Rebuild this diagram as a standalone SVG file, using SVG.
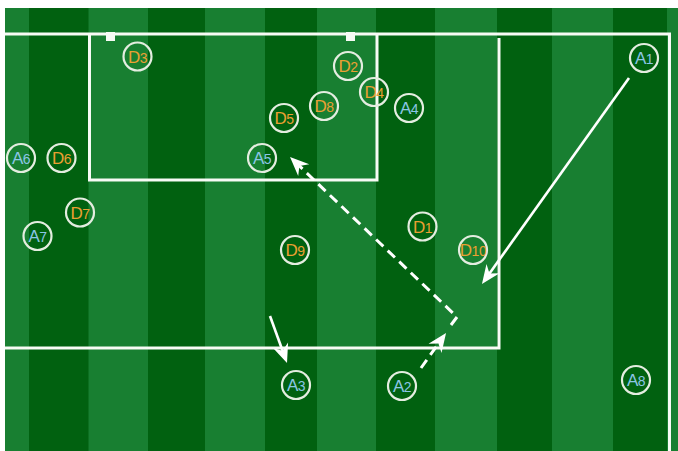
<svg xmlns="http://www.w3.org/2000/svg" width="678" height="451" viewBox="0 0 678 451">
<defs>
<style>
.lt{fill:#187f31}
.dk{fill:#016110}
.ln{stroke:#f7fbf5;stroke-width:3;fill:none}
.pc{fill:none;stroke:#e4ede0;stroke-width:2.2}
.ta{fill:#8cc6e6;font-family:"Liberation Sans",Arial,sans-serif;font-size:17px;text-anchor:middle;letter-spacing:-0.5px}
.td{fill:#eba033;font-family:"Liberation Sans",Arial,sans-serif;font-size:17px;text-anchor:middle;letter-spacing:-0.5px}
.sm{font-size:14px}
.ar{stroke:#ffffff;stroke-width:2.6;fill:none}
.da{stroke-dasharray:10 6;stroke-width:3}
</style>
<marker id="ah" viewBox="-22 -10 32 20" refX="-8" refY="0" markerWidth="32" markerHeight="20" markerUnits="userSpaceOnUse" orient="auto">
<path d="M0,0 L-19,-8 L-13,0 L-19,8 Z" fill="#ffffff" stroke="none"/>
</marker>
</defs>
<rect x="0" y="0" width="678" height="451" fill="#ffffff"/>
<g id="pitch">
<rect class="lt" x="5" y="8" width="673" height="443"/>
<rect class="dk" x="29" y="8" width="59.5" height="443"/>
<rect class="dk" x="148" y="8" width="57" height="443"/>
<rect class="dk" x="265" y="8" width="52" height="443"/>
<rect class="dk" x="376" y="8" width="59" height="443"/>
<rect class="dk" x="497" y="8" width="55" height="443"/>
<rect class="dk" x="613" y="8" width="54" height="443"/>
<path class="ln" d="M5,34 H669.5 V451"/>
<path class="ln" d="M89.5,34 V180 H377 V34"/>
<path class="ln" d="M499,38 V348 H5"/>
<rect x="106" y="32" width="9" height="9" fill="#f7fbf5"/>
<rect x="346" y="32" width="9" height="9" fill="#f7fbf5"/>
</g>
<g id="connectors">
<path class="ar" d="M629,78 L486.6,277.5" marker-end="url(#ah)"/>
<path class="ar" d="M270,316 L284.3,355.5" marker-end="url(#ah)"/>
<path class="ar da" d="M421,368 L441.4,339.5" marker-end="url(#ah)"/>
<path class="ar da" d="M451,325 L457,317 L295.8,162.5" marker-end="url(#ah)"/>
</g>
<g id="A1"><circle class="pc" cx="644" cy="58" r="14"/><text class="ta" x="644" y="64">A<tspan class="sm">1</tspan></text></g>
<g id="A2"><circle class="pc" cx="402" cy="386" r="14"/><text class="ta" x="402" y="392">A<tspan class="sm">2</tspan></text></g>
<g id="A3"><circle class="pc" cx="296" cy="385" r="14"/><text class="ta" x="296" y="391">A<tspan class="sm">3</tspan></text></g>
<g id="A4"><circle class="pc" cx="409" cy="108" r="14"/><text class="ta" x="409" y="114">A<tspan class="sm">4</tspan></text></g>
<g id="A5"><circle class="pc" cx="262" cy="158" r="14"/><text class="ta" x="262" y="164">A<tspan class="sm">5</tspan></text></g>
<g id="A6"><circle class="pc" cx="21" cy="158" r="14"/><text class="ta" x="21" y="164">A<tspan class="sm">6</tspan></text></g>
<g id="A7"><circle class="pc" cx="37.5" cy="236" r="14"/><text class="ta" x="37.5" y="242">A<tspan class="sm">7</tspan></text></g>
<g id="A8"><circle class="pc" cx="636" cy="380" r="14"/><text class="ta" x="636" y="386">A<tspan class="sm">8</tspan></text></g>
<g id="D1"><circle class="pc" cx="422.5" cy="226.5" r="14"/><text class="td" x="422.5" y="232.5">D<tspan class="sm">1</tspan></text></g>
<g id="D2"><circle class="pc" cx="348" cy="66" r="14"/><text class="td" x="348" y="72">D<tspan class="sm">2</tspan></text></g>
<g id="D3"><circle class="pc" cx="137.5" cy="56.5" r="14"/><text class="td" x="137.5" y="62.5">D<tspan class="sm">3</tspan></text></g>
<g id="D4"><circle class="pc" cx="374" cy="92" r="14"/><text class="td" x="374" y="98">D<tspan class="sm">4</tspan></text></g>
<g id="D5"><circle class="pc" cx="284" cy="118" r="14"/><text class="td" x="284" y="124">D<tspan class="sm">5</tspan></text></g>
<g id="D6"><circle class="pc" cx="61.5" cy="158" r="14"/><text class="td" x="61.5" y="164">D<tspan class="sm">6</tspan></text></g>
<g id="D7"><circle class="pc" cx="80" cy="212.5" r="14"/><text class="td" x="80" y="218.5">D<tspan class="sm">7</tspan></text></g>
<g id="D8"><circle class="pc" cx="324" cy="106" r="14"/><text class="td" x="324" y="112">D<tspan class="sm">8</tspan></text></g>
<g id="D9"><circle class="pc" cx="295" cy="250" r="14"/><text class="td" x="295" y="256">D<tspan class="sm">9</tspan></text></g>
<g id="D10"><circle class="pc" cx="473" cy="250" r="14"/><text class="td" x="473" y="256">D<tspan class="sm">10</tspan></text></g>
</svg>
